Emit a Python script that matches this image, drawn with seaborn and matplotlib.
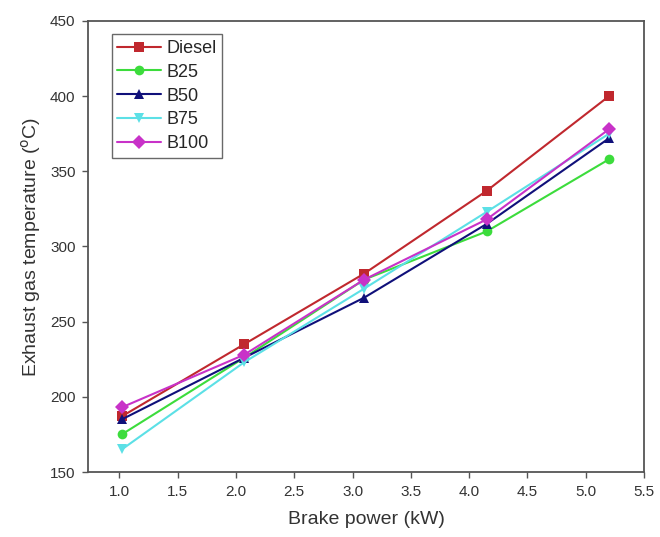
import pandas as pd
import matplotlib
matplotlib.use("Agg")
import matplotlib.pyplot as plt
import seaborn as sns

brake_power = [1.02, 2.07, 3.1, 4.15, 5.2]
fuels = ["Diesel", "B25", "B50", "B75", "B100"]
diesel = [187, 235, 282, 337, 400]
b25 = [175, 226, 278, 310, 358]
b50 = [185, 226, 266, 315, 372]
b75 = [165, 223, 272, 323, 375]
b100 = [193, 228, 278, 318, 378]

series = {"Diesel": diesel, "B25": b25, "B50": b50, "B75": b75, "B100": b100}
rows = []
for name in fuels:
    for x, y in zip(brake_power, series[name]):
        rows.append({"Brake power": x, "Temperature": y, "Fuel": name})
df = pd.DataFrame(rows)

colors = {"Diesel": "#C0282E", "B25": "#3CDC3C", "B50": "#10107A",
          "B75": "#5CE0E6", "B100": "#C832C8"}
markers = {"Diesel": "s", "B25": "o", "B50": "^", "B75": "v", "B100": "D"}

sns.set_style("white")
plt.rcParams["font.family"] = ["Liberation Sans", "DejaVu Sans"]

fig = plt.figure(figsize=(6.6, 5.37), dpi=100)
ax = fig.add_axes([0.1333, 0.121, 0.8425, 0.840])

sns.lineplot(data=df, x="Brake power", y="Temperature", hue="Fuel", style="Fuel",
             hue_order=fuels, style_order=fuels, palette=colors, markers=markers,
             dashes=False, markersize=7, markeredgewidth=0, linewidth=1.5, ax=ax)

ax.set_xlim(0.73, 5.5)
ax.set_ylim(150, 450)
ax.set_xticks([1.0, 1.5, 2.0, 2.5, 3.0, 3.5, 4.0, 4.5, 5.0, 5.5])
ax.set_yticks([150, 200, 250, 300, 350, 400, 450])
ax.tick_params(axis="both", direction="out", length=4, width=1, colors="#555555",
               labelsize=11, labelcolor="#333333", left=True, bottom=True, pad=5)
for s in ax.spines.values():
    s.set_color("#555555")
    s.set_linewidth(1.3)

ax.set_xlabel("Brake power (kW)", fontsize=14, color="#333333", labelpad=9)
ax.set_ylabel("Exhaust gas temperature ($^{\\rm o}$C)", fontsize=14, color="#333333",
              labelpad=5)

leg = ax.legend(loc="upper left", bbox_to_anchor=(0.027, 0.99), fontsize=13,
                frameon=True, fancybox=False, edgecolor="#444444",
                handlelength=2.4, handletextpad=0.3, borderpad=0.3, labelspacing=0.38)
leg.get_frame().set_linewidth(1.0)

fig.savefig("out.png", dpi=100)
